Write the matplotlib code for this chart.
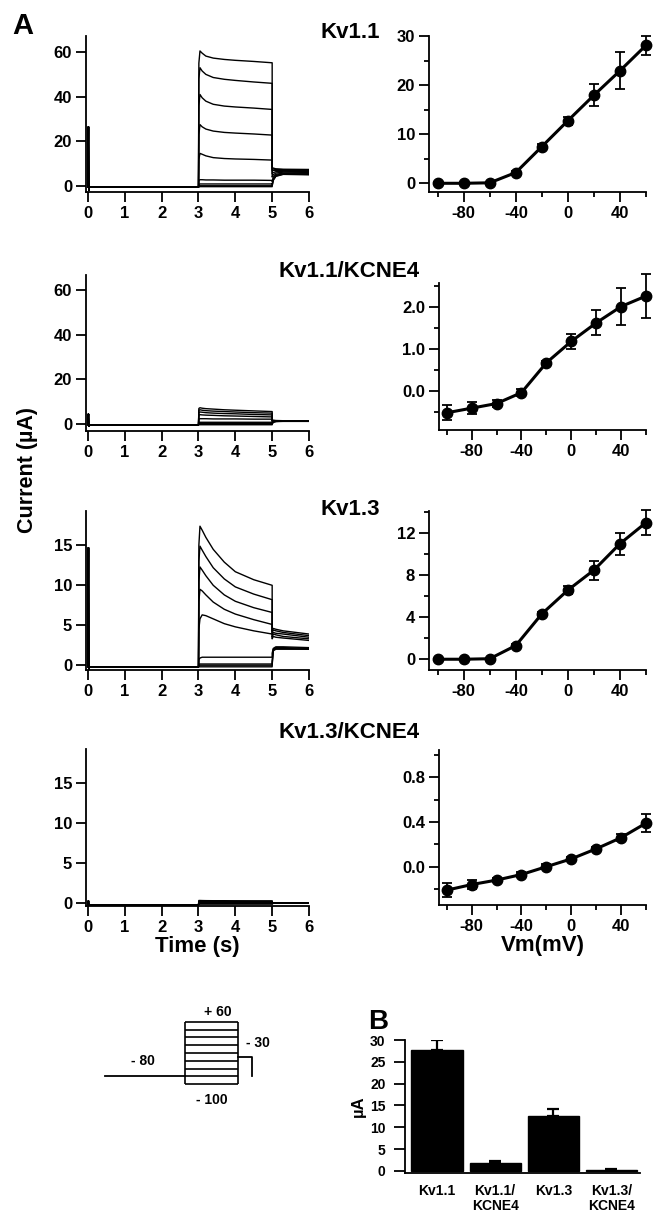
import numpy as np
import matplotlib
matplotlib.use("Agg")
import matplotlib.pyplot as plt
from matplotlib.ticker import MultipleLocator, FormatStrFormatter

# ---------------- data ----------------
# current traces (uA): holding segment, test step (3-5 s), tail at -30 mV (5-6 s)
sweep_mv = [-100, -80, -60, -40, -20, 0, 20, 40, 60]
base_t = [0.0, 0.012, 0.02, 0.03, 0.06, 3.0]
step_t = [3.0, 3.01, 3.04, 3.1, 3.2, 3.4, 3.7, 4.0, 4.5, 5.0]
tail_t = [5.0, 5.03, 5.1, 5.3, 6.0]

kv11_base = [-0.5, 26.5, -2.0, -0.5, -0.5, -0.5]
kv11_step = [
    [-0.5, -0.3, -0.3, -0.3, -0.3, -0.3, -0.3, -0.3, -0.3, -0.3],
    [-0.5, 0.1, 0.1, 0.1, 0.1, 0.1, 0.1, 0.1, 0.1, 0.1],
    [-0.5, 0.8, 0.9, 0.9, 0.9, 0.9, 0.9, 0.9, 0.9, 0.9],
    [-0.5, 2.5, 2.8, 2.8, 2.7, 2.7, 2.6, 2.6, 2.6, 2.5],
    [-0.5, 12.0, 14.6, 14.2, 13.5, 12.7, 12.3, 12.1, 11.9, 11.6],
    [-0.5, 23.0, 27.5, 26.5, 25.5, 24.6, 24.0, 23.7, 23.3, 22.8],
    [-0.5, 36.0, 41.0, 39.5, 38.0, 36.6, 35.8, 35.4, 34.9, 34.3],
    [-0.5, 48.0, 53.0, 51.5, 50.0, 48.6, 47.8, 47.3, 46.6, 46.0],
    [-0.5, 55.0, 60.5, 59.5, 58.2, 57.3, 56.7, 56.3, 55.8, 55.2],
]
kv11_tail = [
    [0.0, 2.5, 4.3, 5.2, 5.0],
    [0.2, 2.8, 4.5, 5.3, 5.2],
    [0.8, 3.2, 4.8, 5.5, 5.4],
    [2.0, 4.0, 5.2, 5.8, 5.7],
    [4.0, 5.0, 5.8, 6.2, 6.1],
    [5.5, 6.0, 6.4, 6.6, 6.5],
    [6.8, 7.0, 7.0, 7.0, 6.9],
    [7.6, 7.6, 7.4, 7.3, 7.2],
    [8.3, 8.0, 7.7, 7.5, 7.4],
]

kv11e4_base = [-0.3, 4.5, -1.0, -0.3, -0.3, -0.3]
kv11e4_step = [
    [-0.3, -0.3, -0.3, -0.3, -0.3, -0.3, -0.3, -0.3, -0.3, -0.3],
    [-0.3, 0.0, 0.0, 0.0, 0.0, 0.0, 0.0, 0.0, 0.0, 0.0],
    [-0.3, 0.3, 0.3, 0.3, 0.3, 0.3, 0.3, 0.3, 0.3, 0.3],
    [-0.3, 0.8, 0.8, 0.8, 0.8, 0.8, 0.8, 0.8, 0.8, 0.8],
    [-0.3, 2.3, 2.4, 2.4, 2.4, 2.3, 2.3, 2.3, 2.2, 2.2],
    [-0.3, 4.0, 4.2, 4.1, 4.0, 3.9, 3.7, 3.6, 3.4, 3.2],
    [-0.3, 5.2, 5.4, 5.3, 5.1, 4.9, 4.7, 4.6, 4.3, 4.1],
    [-0.3, 6.2, 6.4, 6.2, 6.0, 5.8, 5.6, 5.4, 5.1, 4.9],
    [-0.3, 7.0, 7.3, 7.1, 6.9, 6.7, 6.4, 6.2, 5.9, 5.6],
]
kv11e4_tail = [
    [0.0, 0.8, 1.1, 1.2, 1.2],
    [0.1, 0.9, 1.2, 1.3, 1.3],
    [0.3, 1.0, 1.2, 1.3, 1.3],
    [0.6, 1.1, 1.3, 1.3, 1.3],
    [1.0, 1.3, 1.4, 1.4, 1.4],
    [1.3, 1.4, 1.4, 1.4, 1.4],
    [1.5, 1.5, 1.5, 1.5, 1.4],
    [1.6, 1.6, 1.5, 1.5, 1.5],
    [1.8, 1.7, 1.6, 1.5, 1.5],
]

kv13_base = [-0.2, 14.7, -0.5, -0.2, -0.2, -0.2]
kv13_step = [
    [-0.2, -0.2, -0.2, -0.2, -0.2, -0.2, -0.2, -0.2, -0.2, -0.2],
    [-0.2, 0.0, 0.0, 0.0, 0.0, 0.0, 0.0, 0.0, 0.0, 0.0],
    [-0.2, 0.15, 0.15, 0.15, 0.15, 0.15, 0.15, 0.15, 0.15, 0.15],
    [-0.2, 0.7, 0.9, 1.0, 1.0, 1.0, 1.0, 1.0, 1.0, 1.0],
    [-0.2, 4.5, 5.8, 6.3, 6.2, 5.8, 5.2, 4.8, 4.3, 3.9],
    [-0.2, 8.0, 9.5, 9.3, 8.8, 7.9, 7.0, 6.4, 5.7, 5.1],
    [-0.2, 10.5, 12.3, 11.9, 11.2, 10.0, 8.8, 8.0, 7.2, 6.6],
    [-0.2, 13.0, 14.9, 14.4, 13.6, 12.2, 10.8, 9.8, 8.9, 8.2],
    [-0.2, 15.0, 17.4, 16.9, 16.0, 14.5, 12.9, 11.7, 10.7, 10.0],
]
kv13_tail = [
    [0.0, 1.8, 2.0, 2.0, 2.0],
    [0.2, 1.9, 2.1, 2.1, 2.0],
    [0.5, 2.0, 2.2, 2.2, 2.1],
    [1.5, 2.1, 2.3, 2.3, 2.2],
    [3.3, 3.6, 3.5, 3.4, 3.1],
    [3.5, 3.9, 3.8, 3.6, 3.3],
    [3.9, 4.1, 4.0, 3.9, 3.5],
    [4.1, 4.4, 4.3, 4.1, 3.7],
    [4.3, 4.6, 4.5, 4.3, 3.9],
]

kv13e4_base = [-0.2, 0.3, -0.3, -0.2, -0.2, -0.2]
kv13e4_step = [
    [-0.2, -0.1, -0.1, -0.1, -0.1, -0.1, -0.1, -0.1, -0.1, -0.1],
    [-0.2, -0.05, -0.05, -0.05, -0.05, -0.05, -0.05, -0.05, -0.05, -0.05],
    [-0.2, 0.0, 0.0, 0.0, 0.0, 0.0, 0.0, 0.0, 0.0, 0.0],
    [-0.2, 0.05, 0.05, 0.05, 0.05, 0.05, 0.05, 0.05, 0.05, 0.05],
    [-0.2, 0.1, 0.1, 0.1, 0.1, 0.1, 0.1, 0.1, 0.1, 0.1],
    [-0.2, 0.15, 0.15, 0.15, 0.15, 0.15, 0.15, 0.15, 0.15, 0.15],
    [-0.2, 0.2, 0.2, 0.2, 0.2, 0.2, 0.2, 0.2, 0.2, 0.2],
    [-0.2, 0.27, 0.27, 0.27, 0.27, 0.26, 0.26, 0.26, 0.26, 0.25],
    [-0.2, 0.35, 0.35, 0.34, 0.33, 0.32, 0.32, 0.31, 0.3, 0.3],
]
kv13e4_tail = [[-0.05, 0.0, 0.0, 0.0, 0.0]] * 4 + [[0.0, 0.05, 0.05, 0.05, 0.05]] * 5

# I-V curves (uA, mean +/- SEM)
vm = [-100, -80, -60, -40, -20, 0, 20, 40, 60]
kv11_iv = [0.0, 0.0, 0.1, 2.2, 7.5, 12.8, 18.0, 23.0, 28.2]
kv11_err = [0.2, 0.2, 0.2, 0.4, 0.5, 0.8, 2.3, 3.8, 2.0]
kv11e4_iv = [-0.53, -0.42, -0.31, -0.05, 0.66, 1.17, 1.61, 2.0, 2.25]
kv11e4_err = [0.18, 0.15, 0.09, 0.08, 0.05, 0.17, 0.3, 0.43, 0.53]
kv13_iv = [0.0, 0.0, 0.05, 1.3, 4.3, 6.55, 8.45, 10.95, 12.95]
kv13_err = [0.05, 0.05, 0.1, 0.15, 0.2, 0.4, 0.9, 1.05, 1.15]
kv13e4_iv = [-0.21, -0.16, -0.12, -0.07, 0.0, 0.07, 0.16, 0.26, 0.39]
kv13e4_err = [0.06, 0.04, 0.02, 0.02, 0.02, 0.02, 0.02, 0.03, 0.08]

# panel B: current at +60 mV
groups = ["Kv1.1", "Kv1.1/\nKCNE4", "Kv1.3", "Kv1.3/\nKCNE4"]
b_mean = [27.8, 1.8, 12.7, 0.3]
b_err = [2.3, 0.6, 1.4, 0.15]

# pulse protocol (mV, schematic seconds)
hold_mv = -80
step_mv = [-100, -80, -60, -40, -20, 0, 20, 40, 60]
tail_mv = -30
prot_t = [0, 3, 5, 5.5]

# ---------------- figure ----------------
plt.rcParams["font.family"] = ["Liberation Sans", "DejaVu Sans"]
plt.rcParams["font.weight"] = "bold"
plt.rcParams["axes.labelweight"] = "bold"
plt.rcParams["axes.unicode_minus"] = False

W, H = 657, 1214
fig = plt.figure(figsize=(W / 100, H / 100), dpi=100)


def box(x0, y0, x1, y1):
    return fig.add_axes([x0 / W, 1 - y1 / H, (x1 - x0) / W, (y1 - y0) / H])


def igor(ax, size=12):
    for s in ["top", "right"]:
        ax.spines[s].set_visible(False)
    for s in ["left", "bottom"]:
        ax.spines[s].set_linewidth(1.3)
    ax.tick_params(which="major", direction="out", length=7, width=1.3, pad=3, labelsize=size)
    ax.tick_params(which="minor", direction="out", length=3.5, width=1.3)


def traces(ax, base, steps, tails, ylim, yticks):
    for s, t in zip(steps, tails):
        ax.plot(base_t + step_t + tail_t, base + s + t, color="black", lw=1.0)
    ax.set_xlim(-0.054, 6)
    ax.set_ylim(*ylim)
    ax.set_xticks(range(7))
    ax.set_yticks(yticks)
    igor(ax)


def iv(ax, y, err, ylim, major, minor, fmt):
    ax.errorbar(vm, y, yerr=err, color="black", lw=2.2, marker="o", ms=7.5,
                elinewidth=1.3, capsize=3.5, capthick=1.3, clip_on=False, zorder=3)
    ax.set_ylim(*ylim)
    ax.set_xticks([-80, -40, 0, 40])
    ax.set_xticks([-100, -60, -20, 20, 60], minor=True)
    ax.yaxis.set_major_locator(MultipleLocator(major))
    ax.yaxis.set_minor_locator(MultipleLocator(minor))
    ax.yaxis.set_major_formatter(FormatStrFormatter(fmt))
    igor(ax)


# left column: raw traces
ax1 = box(86, 36, 309, 192)
traces(ax1, kv11_base, kv11_step, kv11_tail, (-2.7, 67.2), [0, 20, 40, 60])
ax2 = box(86, 275, 309, 431)
traces(ax2, kv11e4_base, kv11e4_step, kv11e4_tail, (-3.1, 66.7), [0, 20, 40, 60])
ax3 = box(86, 511, 309, 670)
traces(ax3, kv13_base, kv13_step, kv13_tail, (-0.6, 19.3), [0, 5, 10, 15])
ax4 = box(86, 749, 309, 906)
traces(ax4, kv13e4_base, kv13e4_step, kv13e4_tail, (-0.34, 19.25), [0, 5, 10, 15])
ax4.set_xlabel("Time (s)", fontsize=16, labelpad=1)

# right column: I-V curves
bx1 = box(429, 36, 646, 192)
bx1.set_xlim(-106.7, 60)
iv(bx1, kv11_iv, kv11_err, (-1.78, 30.1), 10, 5, "%d")
bx2 = box(439, 283, 646, 430)
bx2.set_xlim(-106.2, 60)
iv(bx2, kv11e4_iv, kv11e4_err, (-0.94, 2.56), 1, 0.5, "%.1f")
bx3 = box(429, 511, 646, 670)
bx3.set_xlim(-106.7, 60)
iv(bx3, kv13_iv, kv13_err, (-1.02, 14.05), 4, 2, "%d")
bx4 = box(439, 750, 646, 905)
bx4.set_xlim(-106.2, 60)
iv(bx4, kv13e4_iv, kv13e4_err, (-0.343, 1.045), 0.4, 0.2, "%.1f")
bx4.set_xlabel("Vm(mV)", fontsize=16, labelpad=1)

# panel titles
fig.text(380 / W, 1 - 33 / H, "Kv1.1", ha="right", va="center", fontsize=16)
fig.text(420 / W, 1 - 272 / H, "Kv1.1/KCNE4", ha="right", va="center", fontsize=16)
fig.text(380 / W, 1 - 509 / H, "Kv1.3", ha="right", va="center", fontsize=16)
fig.text(420 / W, 1 - 732 / H, "Kv1.3/KCNE4", ha="right", va="center", fontsize=16)
fig.text(28 / W, 1 - 470 / H, "Current (µA)", rotation=90, ha="center", va="center", fontsize=15.5)
fig.text(23 / W, 1 - 26 / H, "A", ha="center", va="center", fontsize=21)
fig.text(378 / W, 1 - 1022 / H, "B", ha="center", va="center", fontsize=20)

# panel B bar chart
cx = box(405, 1040, 640, 1173)
xpos = np.arange(len(groups))
cx.bar(xpos, b_mean, width=0.88, color="black", edgecolor="black")
cx.errorbar(xpos, b_mean, yerr=[np.zeros(len(b_err)), b_err], fmt="none",
            ecolor="black", elinewidth=1.6, capsize=4, capthick=1.6)
cx.set_xlim(-0.55, 3.49)
cx.set_ylim(-0.46, 30)
cx.set_yticks(range(0, 31, 5))
cx.set_xticks(xpos)
cx.set_xticklabels(groups, linespacing=1.1)
igor(cx, size=10)
cx.tick_params(axis="x", length=0, pad=8, labelsize=10)
cx.tick_params(axis="y", length=8, pad=6)
cx.set_ylabel("µA", fontsize=12, labelpad=3)

# pulse protocol schematic
px = box(100, 1000, 290, 1110)
px.set_xlim(-0.19, 6.94)
px.set_ylim(-165.7, 115.5)
px.axis("off")
px.plot(prot_t[:2], [hold_mv, hold_mv], color="black", lw=1.3)
px.hlines(step_mv, prot_t[1], prot_t[2], color="black", lw=1.2)
px.vlines([prot_t[1], prot_t[2]], min(step_mv), max(step_mv), color="black", lw=1.2)
px.plot([prot_t[2], prot_t[3], prot_t[3]], [tail_mv, tail_mv, hold_mv], color="black", lw=1.3)
px.text(4.24, 85.6, "+ 60", ha="center", va="center", fontsize=10)
px.text(1.43, -39.7, "- 80", ha="center", va="center", fontsize=10)
px.text(5.74, 5.6, "- 30", ha="center", va="center", fontsize=10)
px.text(4.0, -140, "- 100", ha="center", va="center", fontsize=10)

fig.savefig("out.png", dpi=100)
plt.close()
